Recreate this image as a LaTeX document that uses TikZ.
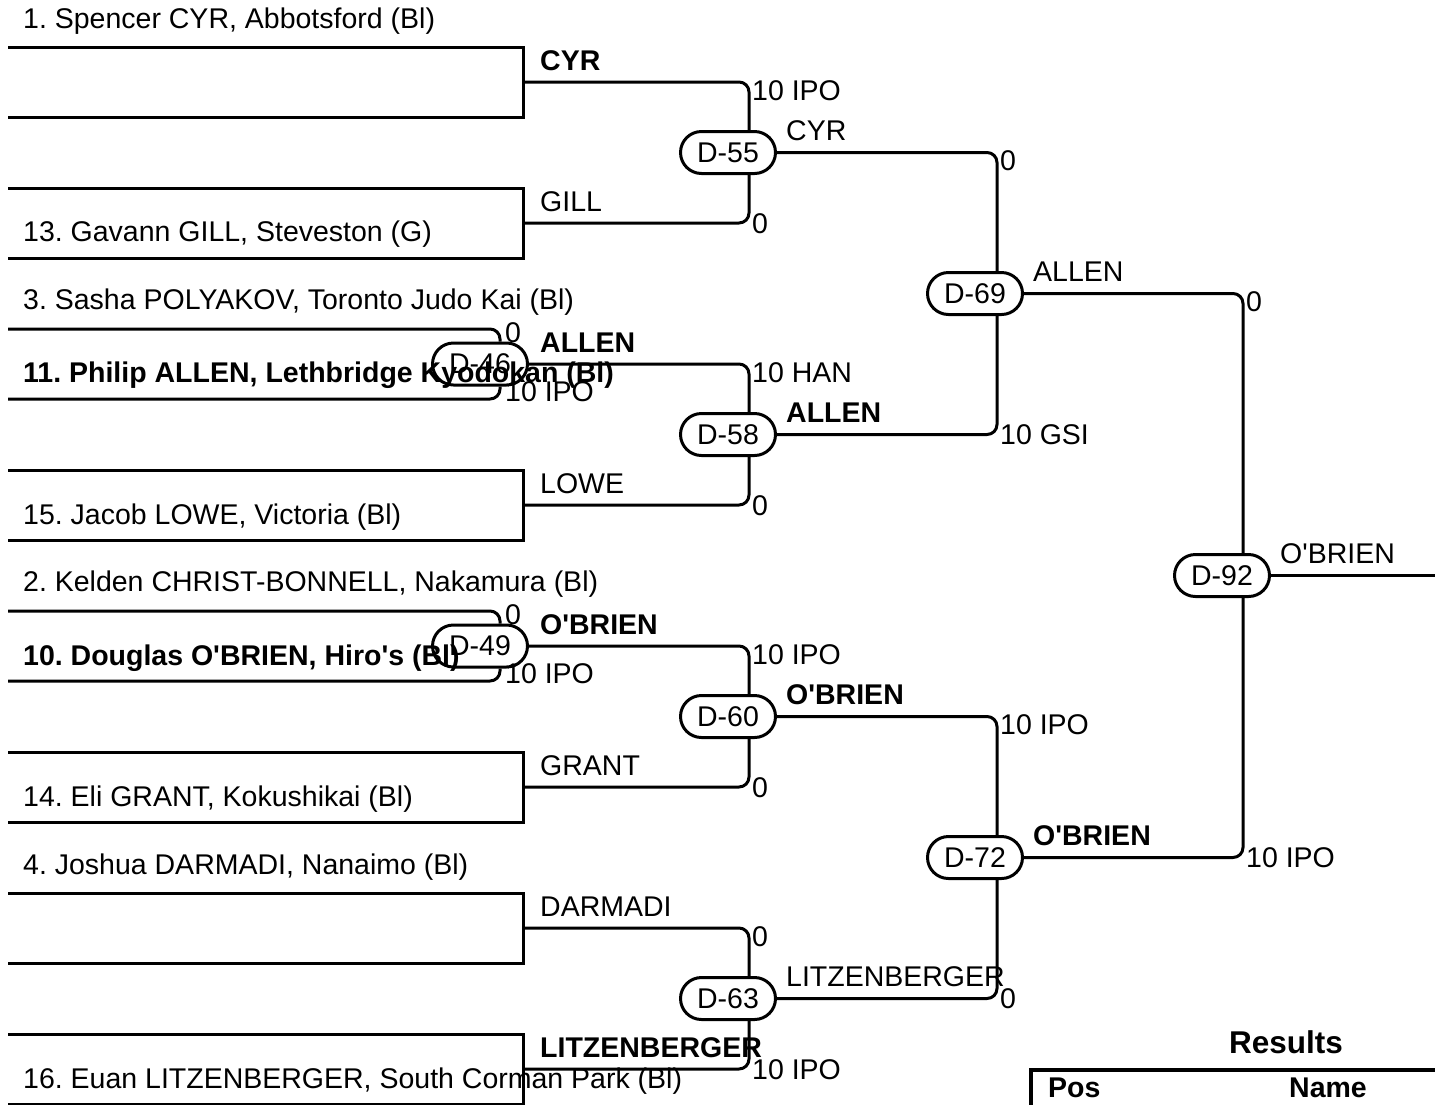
\documentclass[tikz,border=0pt]{standalone}
\usepackage{fontspec}
\setmainfont{Liberation Sans}
\usetikzlibrary{shapes.misc}
\newcommand\myfs{\fontsize{28.5}{34}\selectfont\frenchspacing}
\newcommand\mybigfs{\fontsize{31.5}{38}\selectfont}
\newcommand\aq{\textquotesingle}
\tikzset{
  ln/.style={line width=3pt, rounded corners=10pt},
  boxln/.style={line width=3pt, sharp corners},
  match/.style={draw, line width=3pt, rounded rectangle, minimum width=95pt, minimum height=42pt, inner sep=0pt, font=\myfs},
  txt/.style={anchor=base west, inner sep=0pt, font=\myfs},
  btxt/.style={anchor=base west, inner sep=0pt, font=\myfs\bfseries},
}
\begin{document}
\begin{tikzpicture}[x=1pt,y=-1pt]
\path[use as bounding box] (0,0) rectangle (1435,1104);
\clip (0,0) rectangle (1435,1104);

% match nodes
\node[match] (D46) at (480,364) {D-46};
\node[match] (D49) at (480,646) {D-49};
\node[match] (D55) at (728,152.5) {D-55};
\node[match] (D58) at (728,434.5) {D-58};
\node[match] (D60) at (728,716.5) {D-60};
\node[match] (D63) at (728,998.5) {D-63};
\node[match] (D69) at (975,293.5) {D-69};
\node[match] (D72) at (975,857.5) {D-72};
\node[match] (D92) at (1222,575.5) {D-92};

% bye boxes
\draw[boxln] (8,47) -- (523,47) -- (523,117) -- (8,117);
\draw[boxln] (8,188) -- (523,188) -- (523,258) -- (8,258);
\draw[boxln] (8,470) -- (523,470) -- (523,540) -- (8,540);
\draw[boxln] (8,752) -- (523,752) -- (523,822) -- (8,822);
\draw[boxln] (8,893) -- (523,893) -- (523,963) -- (8,963);
\draw[boxln] (8,1034) -- (523,1034) -- (523,1104) -- (8,1104);

\coordinate (b0) at (523,82);
\coordinate (b1) at (523,223);
\coordinate (b3) at (523,505);
\coordinate (b5) at (523,787);
\coordinate (b6) at (523,928);
\coordinate (b7) at (523,1069);
\coordinate (p2a) at (8,329);
\coordinate (p2b) at (8,399);
\coordinate (p4a) at (8,611);
\coordinate (p4b) at (8,681);
\coordinate (fin) at (1440,575.5);

% connectors
\draw[ln] (p2a) -| ([xshift=20pt]D46.north);
\draw[ln] (p2b) -| ([xshift=20pt]D46.south);
\draw[ln] (p4a) -| ([xshift=20pt]D49.north);
\draw[ln] (p4b) -| ([xshift=20pt]D49.south);
\draw[ln] (b0) -| ([xshift=21pt]D55.north);
\draw[ln] (b1) -| ([xshift=21pt]D55.south);
\draw[ln] (D46.east) -| ([xshift=21pt]D58.north);
\draw[ln] (b3) -| ([xshift=21pt]D58.south);
\draw[ln] (D49.east) -| ([xshift=21pt]D60.north);
\draw[ln] (b5) -| ([xshift=21pt]D60.south);
\draw[ln] (b6) -| ([xshift=21pt]D63.north);
\draw[ln] (b7) -| ([xshift=21pt]D63.south);
\draw[ln] (D55.east) -| ([xshift=22pt]D69.north);
\draw[ln] (D58.east) -| ([xshift=22pt]D69.south);
\draw[ln] (D60.east) -| ([xshift=22pt]D72.north);
\draw[ln] (D63.east) -| ([xshift=22pt]D72.south);
\draw[ln] (D69.east) -| ([xshift=21pt]D92.north);
\draw[ln] (D72.east) -| ([xshift=21pt]D92.south);
\draw[ln] (D92.east) -- (fin);

% competitor names
\node[txt]  (n1)  at (23,28)   {1. Spencer CYR, Abbotsford (Bl)};
\node[txt]  (n13) at (23,241)  {13. Gavann GILL, Steveston (G)};
\node[txt]  (n3)  at (23,309)  {3. Sasha POLYAKOV, Toronto Judo Kai (Bl)};
\node[btxt] (n11) at (23,382)  {11. Philip ALLEN, Lethbridge Kyodokan (Bl)};
\node[txt]  (n15) at (23,524)  {15. Jacob LOWE, Victoria (Bl)};
\node[txt]  (n2)  at (23,591)  {2. Kelden CHRIST-BONNELL, Nakamura (Bl)};
\node[btxt] (n10) at (23,665)  {10. Douglas O\aq BRIEN, Hiro\aq s (Bl)};
\node[txt]  (n14) at (23,806)  {14. Eli GRANT, Kokushikai (Bl)};
\node[txt]  (n4)  at (23,874)  {4. Joshua DARMADI, Nanaimo (Bl)};
\node[txt]  (n16) at (23,1088) {16. Euan LITZENBERGER, South Corman Park (Bl)};

% winner labels
\node[btxt] (w1)  at (540,70)    {CYR};
\node[txt]  (w2)  at (540,211)   {GILL};
\node[btxt] (w3)  at (540,352)   {ALLEN};
\node[txt]  (w4)  at (540,493)   {LOWE};
\node[btxt] (w5)  at (540,634)   {O\aq BRIEN};
\node[txt]  (w6)  at (540,775)   {GRANT};
\node[txt]  (w7)  at (540,916)   {DARMADI};
\node[btxt] (w8)  at (540,1057)  {LITZENBERGER};
\node[txt]  (w9)  at (786,140.5) {CYR};
\node[btxt] (w10) at (786,422.5) {ALLEN};
\node[btxt] (w11) at (786,704.5) {O\aq BRIEN};
\node[txt]  (w12) at (786,986.5) {LITZENBERGER};
\node[txt]  (w13) at (1033,281.5) {ALLEN};
\node[btxt] (w14) at (1033,845.5) {O\aq BRIEN};
\node[txt]  (w15) at (1280,563.5) {O\aq BRIEN};

% scores
\node[txt] (s1)  at (505,342)   {0};
\node[txt] (s2)  at (505,401)   {10 IPO};
\node[txt] (s3)  at (505,624)   {0};
\node[txt] (s4)  at (505,683)   {10 IPO};
\node[txt] (s5)  at (752,100)   {10 IPO};
\node[txt] (s6)  at (752,233)   {0};
\node[txt] (s7)  at (752,382)   {10 HAN};
\node[txt] (s8)  at (752,515)   {0};
\node[txt] (s9)  at (752,664)   {10 IPO};
\node[txt] (s10) at (752,797)   {0};
\node[txt] (s11) at (752,946)   {0};
\node[txt] (s12) at (752,1079)  {10 IPO};
\node[txt] (s13) at (1000,170.5) {0};
\node[txt] (s14) at (1000,444.5) {10 GSI};
\node[txt] (s15) at (1000,734.5) {10 IPO};
\node[txt] (s16) at (1000,1008.5) {0};
\node[txt] (s17) at (1246,311.5) {0};
\node[txt] (s18) at (1246,867.5) {10 IPO};

% results table
\node[anchor=base, inner sep=0pt, font=\mybigfs\bfseries] (res) at (1286,1053) {Results};
\draw[line width=4pt, sharp corners] (1031,1140) -- (1031,1070) -- (1460,1070);
\node[btxt] (pos) at (1048,1097) {Pos};
\node[anchor=base, inner sep=0pt, font=\myfs\bfseries] (nm) at (1328,1097) {Name};
\end{tikzpicture}
\end{document}
